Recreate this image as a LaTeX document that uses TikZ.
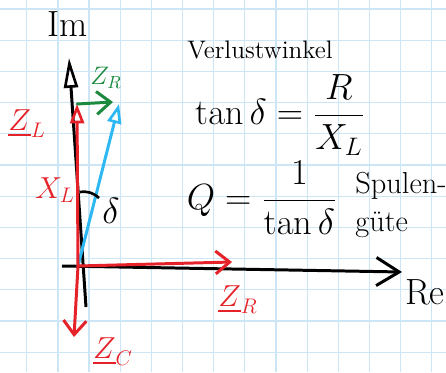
\documentclass[tikz,border=0pt]{standalone}
\usepackage{amsmath,amssymb}
\usepackage{tikz}
\usetikzlibrary{arrows.meta,calc}

\definecolor{stiftrot}{HTML}{E52229}
\definecolor{stiftgruen}{HTML}{1B8A3E}
\definecolor{stiftblau}{HTML}{2DB8F2}
\definecolor{raster}{HTML}{CDE6F6}

\begin{document}
\begin{tikzpicture}[x=0.02cm, y=-0.02cm, font=\LARGE,
  gitter/.style={draw=raster, line width=0.7pt},
  achse/.style={draw=black, line width=1.7pt},
  zeiger/.style={line width=1.7pt, line cap=round},
  barb/.style={-{Straight Barb[length=8pt,width=13pt,line width=1.7pt]}},
  offen/.style={-{Triangle[open,length=11pt,width=8pt,line width=1.5pt]}}]
  \useasboundingbox (0,0) rectangle (446,372);
  \fill[white] (0,0) rectangle (446,372);

  % kariertes papier
  \foreach \k in {0,...,13}{
    \draw[gitter] ({26.8+31.15*\k},0) -- ({26.8+31.15*\k},372);
  }
  \foreach \k in {0,...,11}{
    \draw[gitter] (0,{9+31.2*\k}) -- (446,{9+31.2*\k});
  }

  % punkte
  \coordinate (O) at (78,266);
  \coordinate (imfuss) at (86,307);
  \coordinate (imspitze) at (69,58);
  \coordinate (relinks) at (62,266);
  \coordinate (respitze) at (402,272);
  \coordinate (zl) at (77,104);
  \coordinate (zrgr) at (113,102);
  \coordinate (zges) at (119,104);
  \coordinate (zrrot) at (232,262);
  \coordinate (zc) at (74,337);

  % achsen
  \draw[achse, -{Triangle[open,length=17pt,width=8pt,line width=1.5pt]}] (imfuss) -- (imspitze);
  \draw[achse, -{Straight Barb[length=13pt,width=16pt,line width=1.7pt]}] (relinks) -- (respitze);
  \node[font=\huge] (im) at (68,24) {Im};
  \node[font=\huge] (re) at (425,292) {Re};

  % zeiger
  \draw[zeiger, stiftblau, offen] (O) -- (zges);
  \draw[zeiger, stiftrot, offen] (O) -- (zl);
  \draw[zeiger, stiftgruen, barb] (zl) -- (zrgr);
  \draw[zeiger, stiftrot, barb] (O) -- (zrrot);
  \draw[zeiger, stiftrot, barb] (O) -- (zc);

  % winkel
  \draw[line width=1.5pt] (80,192) to[bend left=25] (99,198);
  \node[font=\huge] (delta) at (111,211) {$\delta$};

  % beschriftung
  \node[stiftrot] (lzl) at (27,124) {$\underline{Z}_L$};
  \node[stiftgruen, font=\Large] (lzrgr) at (106,78) {$Z_R$};
  \node[stiftrot] (lxl) at (55,190) {$X_L$};
  \node[stiftrot] (lzrrot) at (238,300) {$\underline{Z}_R$};
  \node[stiftrot] (lzc) at (113,352) {$\underline{Z}_C$};

  % formeln
  \node[font=\Large] (verl) at (260,50) {Verlustwinkel};
  \node[font=\huge] (tand) at (280,115) {$\tan\delta = \dfrac{R}{X_L}$};
  \node[font=\huge] (qual) at (262,198) {$Q = \dfrac{1}{\tan\delta}$};
  \node[align=left, font=\LARGE, inner sep=0pt] (guete) at (401,205) {Spulen-\\güte};
\end{tikzpicture}
\end{document}
